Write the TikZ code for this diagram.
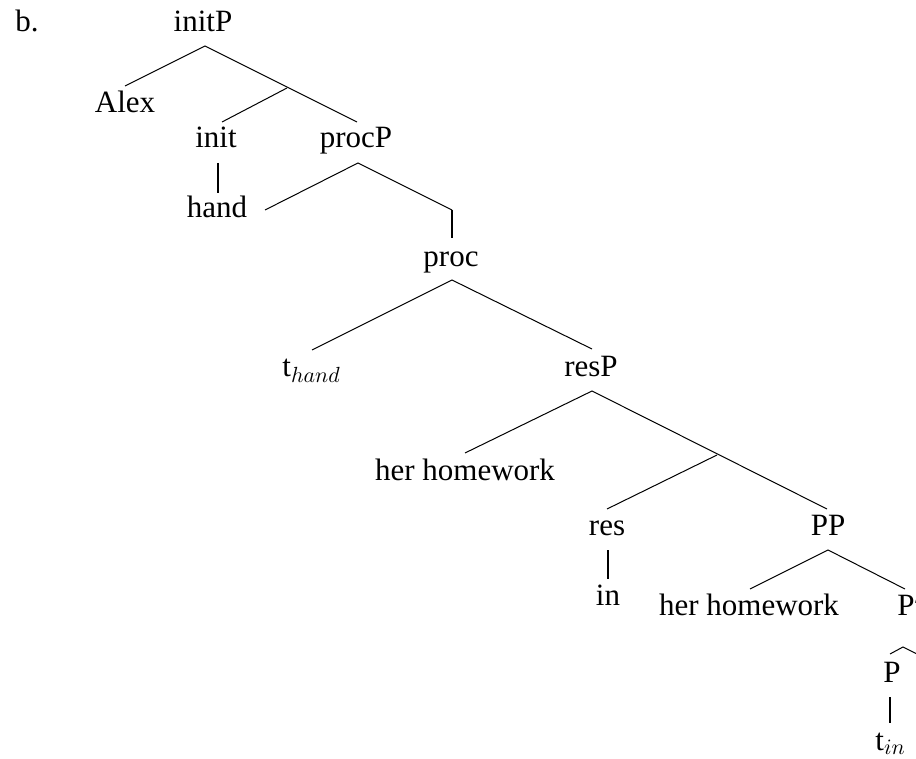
\documentclass[tikz,border=0pt]{standalone}
\usepackage{fontspec}
\setmainfont{Liberation Serif}
\usepackage{tikz}
\usetikzlibrary{positioning}

\tikzset{
  lbl/.style={inner sep=0pt,anchor=base,font=\fontsize{15.5}{18}\selectfont},
  branch/.style={line width=0.5pt},
  stem/.style={line width=1pt}
}

\begin{document}
\begin{tikzpicture}[x=0.5pt,y=-0.5pt]
  \useasboundingbox (0,0) rectangle (916,759);
  % labels
  \node[lbl,anchor=base west] (ex) at (15,32) {b.};
  \node[lbl] (initP) at (203,32) {initP};
  \node[lbl] (alex) at (125,113) {Alex};
  \node[lbl] (init) at (216,148) {init};
  \node[lbl] (procP) at (356,148) {procP};
  \node[lbl] (hand) at (217,218) {hand};
  \node[lbl] (proc) at (451,267) {proc};
  \node[lbl,anchor=base west] (thand) at (282,377) {t$_{hand}$};
  \node[lbl] (resP) at (591,377) {resP};
  \node[lbl] (hw1) at (465,480) {her homework};
  \node[lbl] (res) at (607,535) {res};
  \node[lbl] (PP) at (828,535) {PP};
  \node[lbl] (in) at (608,605) {in};
  \node[lbl] (hw2) at (749,615) {her homework};
  \node[lbl,anchor=base west] (Pbar) at (897,615) {P$'$};
  \node[lbl] (P) at (892,682) {P};
  \node[lbl,anchor=base west] (tin) at (875,750) {t$_{in}$};
  % branch points
  \coordinate (initP-dn) at (205,46);
  \coordinate (alex-up) at (125,86);
  \coordinate (initbar) at (287,88);
  \coordinate (procP-up) at (357,122);
  \coordinate (init-up) at (222,122);
  \coordinate (init-dn) at (218,163);
  \coordinate (hand-up) at (218,193);
  \coordinate (procP-dn) at (358,163);
  \coordinate (hand-rt) at (265,210);
  \coordinate (procbar) at (452,210);
  \coordinate (proc-up) at (452,238);
  \coordinate (proc-dn) at (452,280);
  \coordinate (thand-up) at (312,350);
  \coordinate (resP-up) at (592,349);
  \coordinate (resP-dn) at (592,391);
  \coordinate (hw1-up) at (465,453);
  \coordinate (resbar) at (717,455);
  \coordinate (PP-up) at (827,509);
  \coordinate (res-up) at (607,509);
  \coordinate (res-dn) at (608,550);
  \coordinate (in-up) at (608,579);
  \coordinate (PP-dn) at (828,550);
  \coordinate (hw2-up) at (750,589);
  \coordinate (Pbar-up) at (905,589);
  \coordinate (P-up) at (890,654);
  \coordinate (Pbar-dn) at (903,647);
  \coordinate (Pbar-rt) at (917,654);
  \coordinate (P-dn) at (890,697);
  \coordinate (tin-up) at (890,723);
  % branches
  \draw[branch] (alex-up) -- (initP-dn) -- (procP-up);
  \draw[branch] (initbar) -- (init-up);
  \draw[stem] (init-dn) -- (hand-up);
  \draw[branch] (hand-rt) -- (procP-dn) -- (procbar);
  \draw[stem] (procbar) -- (proc-up);
  \draw[branch] (thand-up) -- (proc-dn) -- (resP-up);
  \draw[branch] (hw1-up) -- (resP-dn) -- (PP-up);
  \draw[branch] (resbar) -- (res-up);
  \draw[stem] (res-dn) -- (in-up);
  \draw[branch] (hw2-up) -- (PP-dn) -- (Pbar-up);
  \draw[branch] (P-up) -- (Pbar-dn) -- (Pbar-rt);
  \draw[stem] (P-dn) -- (tin-up);
\end{tikzpicture}
\end{document}
